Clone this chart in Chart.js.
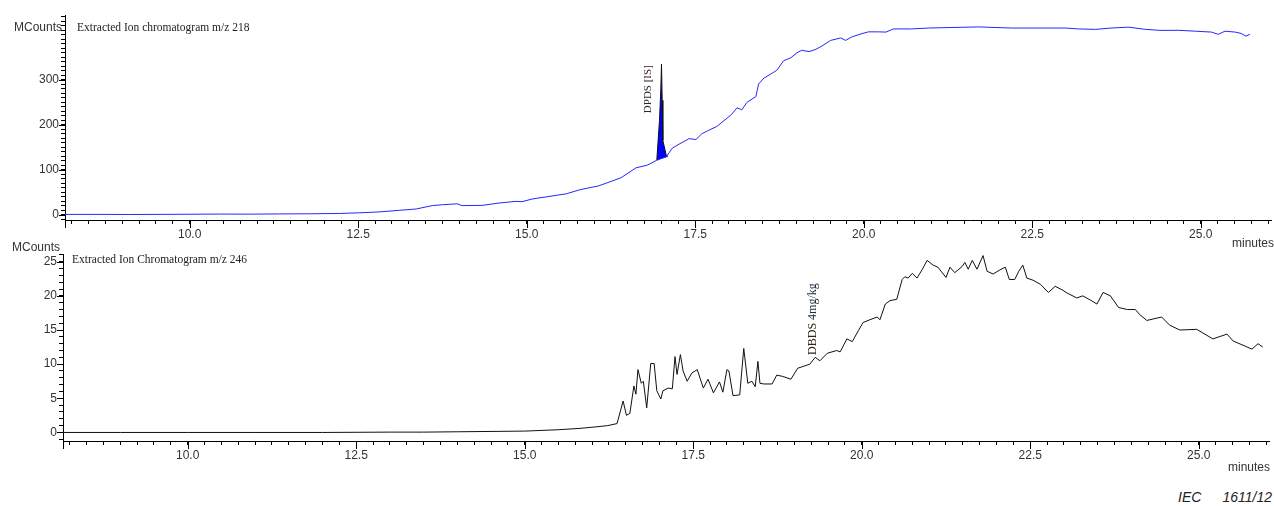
<!DOCTYPE html>
<html>
<head>
<meta charset="utf-8">
<script src="https://cdn.jsdelivr.net/npm/chart.js@4.4.1/dist/chart.umd.min.js"></script>
<style>
  html, body { margin: 0; padding: 0; background: #fff; }
  body { position: relative; width: 1274px; height: 506px; overflow: hidden; font-family: "Liberation Sans", Arial, sans-serif; }
  canvas { position: absolute; left: 0; }
  #topChart { top: 0; }
  #botChart { top: 245px; }
  .t { position: absolute; white-space: nowrap; line-height: 14px; color: #333; }
  .unit { font-size: 12px; text-align: right; }
  .title { font-family: "Liberation Serif", "Times New Roman", serif; font-size: 11.5px; color: #222; }
  .axisname { font-size: 12px; }
  .caption { font-size: 14px; font-style: italic; color: #222; line-height: 16px; }
</style>
</head>
<body>
<canvas id="topChart" width="1274" height="245"></canvas>
<canvas id="botChart" width="1274" height="225"></canvas>

<div class="t unit" style="right:1212px; top:20px;">MCounts</div>
<div class="t title" style="left:77px; top:20px;">Extracted Ion chromatogram m/z 218</div>
<div class="t axisname" style="left:1232px; top:236px;">minutes</div>

<div class="t unit" style="right:1214px; top:240px;">MCounts</div>
<div class="t title" style="left:72px; top:252px;">Extracted Ion Chromatogram m/z 246</div>
<div class="t axisname" style="left:1228px; top:460px;">minutes</div>

<div class="t caption" style="right:2px; top:489px;">IEC<span style="display:inline-block;width:21px"></span>1611/12</div>

<script>
// Retention time axis (minutes)
const timeMin = 8.15;
const timeMax = 26.05;
const timeMajorTicks = [10.0, 12.5, 15.0, 17.5, 20.0, 22.5, 25.0];

// m/z 218 trace (MCounts)
const topTime = [8.15, 8.67, 9.11, 9.56, 10.00, 10.44, 10.89, 11.33, 11.78, 12.22, 12.52, 12.81, 13.11, 13.36, 13.60, 13.75, 13.97, 14.04, 14.34, 14.59, 14.84, 14.93, 15.08, 15.33, 15.59, 15.78, 16.07, 16.40, 16.62, 16.79, 16.93, 17.07, 17.16, 17.26, 17.41, 17.51, 17.60, 17.70, 17.82, 17.96, 18.04, 18.12, 18.19, 18.27, 18.40, 18.44, 18.52, 18.62, 18.71, 18.81, 18.92, 19.01, 19.08, 19.19, 19.29, 19.38, 19.51, 19.66, 19.73, 19.82, 19.96, 20.07, 20.22, 20.33, 20.44, 20.71, 20.96, 21.70, 22.19, 22.70, 22.99, 23.19, 23.44, 23.67, 23.93, 24.18, 24.41, 24.67, 24.92, 25.16, 25.26, 25.36, 25.51, 25.60, 25.67, 25.73];
const topCounts = [0.5, 0.5, 0.3, 0.5, 0.8, 1.2, 1.0, 1.5, 1.8, 2.5, 4, 6, 9.5, 12.5, 20, 22, 24, 20, 20.5, 25.8, 29.4, 28.7, 34.6, 40.4, 46.3, 55, 64, 82, 104, 110, 121, 128.6, 147.8, 156.7, 169, 167, 180, 187.5, 196, 213, 223, 237.6, 233, 250, 262.5, 290.5, 303.7, 312.5, 321, 342, 349, 360, 365.5, 362.5, 367.7, 375, 387.5, 393, 387.5, 395, 402, 406.5, 406.5, 406, 413, 413, 415, 417.5, 415, 415, 415, 413, 412, 415, 417, 412, 409.7, 410, 408, 406, 401, 408, 406, 403, 397, 401];
const topCountTicks = [0, 100, 200, 300];

// DPDS [IS] peak and the baseline it is integrated down to
const peakTime = [16.93, 16.97, 16.99, 17.00, 17.01, 17.02, 17.07, 17.08];
const peakCounts = [121, 210, 280, 335, 254, 165, 132, 128];
const peakBaseTime = [16.93, 17.08];
const peakBaseCounts = [121, 128];

// m/z 246 trace (MCounts)
const botTime = [8.15, 9.0, 10.0, 11.0, 12.0, 13.0, 13.5, 14.0, 14.5, 15.0, 15.5, 15.82, 16.04, 16.23, 16.37, 16.46, 16.51, 16.56, 16.62, 16.65, 16.68, 16.73, 16.76, 16.81, 16.87, 16.92, 16.96, 17.02, 17.05, 17.13, 17.19, 17.23, 17.26, 17.31, 17.35, 17.41, 17.48, 17.56, 17.65, 17.72, 17.80, 17.89, 17.94, 18.00, 18.03, 18.09, 18.19, 18.25, 18.31, 18.37, 18.42, 18.46, 18.49, 18.55, 18.67, 18.74, 18.83, 18.95, 19.05, 19.23, 19.31, 19.38, 19.49, 19.63, 19.68, 19.78, 19.86, 19.95, 20.02, 20.12, 20.23, 20.27, 20.35, 20.42, 20.52, 20.60, 20.64, 20.69, 20.75, 20.82, 20.90, 20.97, 21.06, 21.13, 21.25, 21.31, 21.38, 21.49, 21.53, 21.58, 21.64, 21.71, 21.80, 21.86, 21.95, 22.05, 22.13, 22.19, 22.27, 22.33, 22.39, 22.45, 22.54, 22.65, 22.77, 22.87, 22.97, 23.05, 23.19, 23.28, 23.39, 23.49, 23.58, 23.69, 23.81, 23.94, 24.06, 24.12, 24.23, 24.45, 24.57, 24.72, 24.97, 25.21, 25.42, 25.51, 25.79, 25.88, 25.95];
const botCounts = [0, 0, 0, 0, 0, 0.05, 0.05, 0.1, 0.15, 0.2, 0.4, 0.6, 0.8, 1.0, 1.3, 4.6, 2.5, 2.8, 6.8, 5.6, 9.2, 7.2, 7.5, 3.6, 10.1, 10.1, 6.1, 4.9, 6.1, 6.5, 6.4, 11.1, 8.5, 11.4, 9.0, 7.5, 8.7, 9.2, 6.5, 7.8, 5.8, 7.4, 5.9, 9.2, 9.0, 5.4, 5.5, 12.3, 7.2, 7.5, 6.7, 10.4, 7.2, 7.1, 7.1, 8.4, 8.2, 7.8, 9.4, 10.0, 11.0, 10.5, 11.6, 12.0, 11.8, 13.7, 13.3, 14.9, 16.1, 16.5, 16.9, 16.5, 18.8, 19.3, 19.5, 22.4, 22.8, 22.6, 23.3, 22.6, 23.9, 25.2, 24.5, 24.2, 22.7, 24.2, 23.4, 24.3, 24.9, 23.9, 25.2, 23.9, 25.9, 23.6, 23.2, 23.8, 24.2, 22.4, 22.4, 23.6, 24.5, 22.6, 22.3, 21.7, 20.5, 21.4, 20.9, 20.4, 19.7, 20.0, 19.4, 18.8, 20.5, 20.0, 18.3, 18.0, 18.0, 17.3, 16.4, 16.9, 15.7, 15.0, 15.1, 13.7, 14.4, 13.4, 12.2, 13.0, 12.5];
const botCountTicks = [0, 5, 10, 15, 20, 25];

const pairs = (xs, ys) => xs.map((x, i) => ({ x: x, y: ys[i] }));
const near = (v, list) => list.some(m => Math.abs(m - v) < 1e-6);

// Longer tick marks at labelled values, and the short stub of the count axis below the time axis
const majorTicks = {
  id: 'majorTicks',
  afterDraw(chart, args, o) {
    const ctx = chart.ctx, xs = chart.scales.x, ys = chart.scales.y;
    ctx.save();
    ctx.strokeStyle = '#000';
    ctx.lineWidth = 1;
    ctx.beginPath();
    o.xMajor.forEach(v => {
      const px = Math.round(xs.getPixelForValue(v)) + 0.5;
      ctx.moveTo(px, xs.top);
      ctx.lineTo(px, xs.top + o.xLen);
    });
    o.yMajor.forEach(v => {
      const py = Math.round(ys.getPixelForValue(v)) + 0.5;
      ctx.moveTo(ys.right, py);
      ctx.lineTo(ys.right - o.yLen, py);
    });
    const ax = Math.round(ys.right) + 0.5;
    ctx.moveTo(ax, xs.top);
    ctx.lineTo(ax, xs.top + o.xLen);
    ctx.stroke();
    ctx.restore();
  }
};

// Rotated peak names placed in data coordinates
const peakNames = {
  id: 'peakNames',
  afterDatasetsDraw(chart, args, o) {
    const ctx = chart.ctx, xs = chart.scales.x, ys = chart.scales.y;
    (o.items || []).forEach(a => {
      ctx.save();
      ctx.translate(xs.getPixelForValue(a.x), ys.getPixelForValue(a.y));
      ctx.rotate(-Math.PI / 2);
      ctx.font = a.font;
      ctx.textBaseline = 'middle';
      let w = 0;
      a.parts.forEach(p => { w += ctx.measureText(p.text).width; });
      let cx = -w / 2;
      a.parts.forEach(p => {
        ctx.fillStyle = p.color;
        ctx.fillText(p.text, cx, 0);
        cx += ctx.measureText(p.text).width;
      });
      ctx.restore();
    });
  }
};

function makeChart(id, cfg) {
  return new Chart(document.getElementById(id), {
    type: 'line',
    data: { datasets: cfg.datasets },
    plugins: [majorTicks, peakNames],
    options: {
      responsive: false,
      animation: false,
      devicePixelRatio: 1,
      layout: { padding: { top: cfg.padTop, right: cfg.padRight, left: 0, bottom: 0 } },
      plugins: {
        legend: { display: false },
        tooltip: { enabled: false },
        majorTicks: { xMajor: timeMajorTicks, yMajor: cfg.yMajor, xLen: 8, yLen: 6 },
        peakNames: { items: cfg.names }
      },
      elements: { point: { radius: 0 }, line: { tension: 0 } },
      scales: {
        x: {
          type: 'linear',
          min: timeMin,
          max: timeMax,
          border: { display: true, color: '#000', width: 1 },
          grid: { display: true, drawOnChartArea: false, drawTicks: true, tickLength: 4, color: '#000', tickColor: '#000' },
          ticks: {
            stepSize: 0.25,
            includeBounds: false,
            autoSkip: false,
            maxRotation: 0,
            padding: 3,
            color: '#333',
            font: { family: 'Liberation Sans', size: 12 },
            callback: v => near(v, timeMajorTicks) ? v.toFixed(1) : ''
          },
          afterFit: s => { s.height = cfg.xHeight; }
        },
        y: {
          type: 'linear',
          min: cfg.yMin,
          max: cfg.yMax,
          border: { display: true, color: '#000', width: 1 },
          grid: { display: true, drawOnChartArea: false, drawTicks: true, tickLength: 4, color: '#000', tickColor: '#000' },
          ticks: {
            stepSize: cfg.yStep,
            includeBounds: false,
            autoSkip: false,
            padding: 2,
            color: '#333',
            font: { family: 'Liberation Sans', size: 12 },
            callback: v => near(v, cfg.yMajor) ? String(v) : ''
          },
          afterFit: s => { s.width = cfg.yWidth; }
        }
      }
    }
  });
}

makeChart('topChart', {
  padTop: 15, padRight: 2.5, xHeight: 25, yWidth: 65,
  yMin: -12, yMax: 444, yStep: 10, yMajor: topCountTicks,
  names: [{ x: 16.80, y: 279, font: '11px "Liberation Serif", serif',
            parts: [{ text: 'DPDS ', color: '#2a2a2a' }, { text: '[IS]', color: '#3a2228' }] }],
  datasets: [
    { label: 'm/z 218', data: pairs(topTime, topCounts), borderColor: '#2626ff', borderWidth: 1, fill: false },
    { label: 'baseline', data: pairs(peakBaseTime, peakBaseCounts), borderColor: 'rgba(0,0,0,0)', borderWidth: 0, fill: false },
    { label: 'DPDS [IS]', data: pairs(peakTime, peakCounts), borderColor: '#111', borderWidth: 1, backgroundColor: '#0000ff', fill: '-1' }
  ]
});

makeChart('botChart', {
  padTop: 6, padRight: 4.5, xHeight: 29, yWidth: 63,
  yMin: -1.25, yMax: 26.1, yStep: 1, yMajor: botCountTicks,
  names: [{ x: 19.28, y: 16.6, font: '12px "Liberation Serif", serif',
            parts: [{ text: 'DBDS ', color: '#2e2618' }, { text: '4mg/kg', color: '#1e2a40' }] }],
  datasets: [
    { label: 'm/z 246', data: pairs(botTime, botCounts), borderColor: '#111', borderWidth: 1, fill: false }
  ]
});
</script>
</body>
</html>
